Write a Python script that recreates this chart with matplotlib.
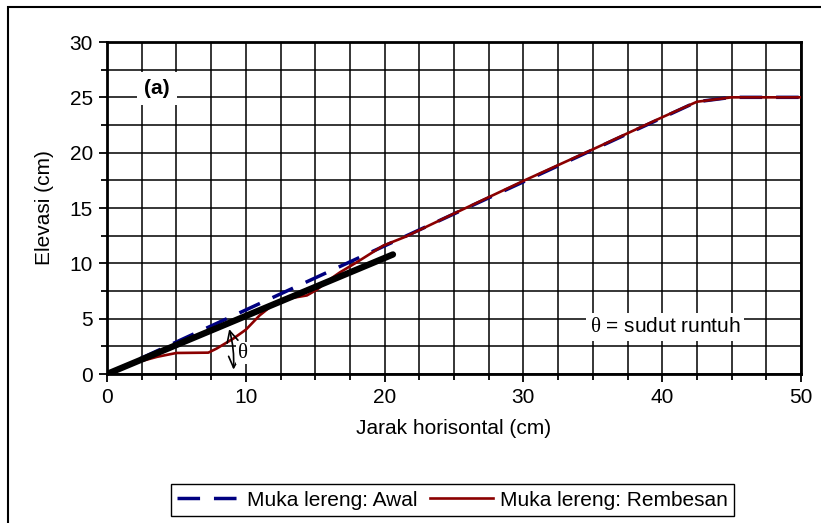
import matplotlib
matplotlib.use("Agg")
import matplotlib.pyplot as plt
from matplotlib.patches import FancyArrowPatch, Rectangle
from matplotlib.ticker import MultipleLocator

plt.rcParams['font.family'] = ['Liberation Sans', 'DejaVu Sans']
plt.rcParams['mathtext.fontset'] = 'custom'
plt.rcParams['mathtext.rm'] = 'Liberation Serif'
plt.rcParams['mathtext.it'] = 'Liberation Serif'

# Data
x_awal = [0, 42.5, 45, 50]
y_awal = [0, 24.6, 25.0, 25.0]

x_remb = [0, 2.0, 3.6, 5.0, 7.3, 7.9, 9.1, 10.0, 11.0, 11.9, 13.0, 14.4, 15.1,
          16.0, 16.8, 18.0, 19.9, 21.5, 25, 30, 35, 40, 42.5, 45, 50]
y_remb = [0, 1.0, 1.55, 1.9, 1.93, 2.3, 3.2, 4.0, 5.3, 6.2, 6.8, 7.1, 7.6,
          8.5, 9.2, 10.1, 11.6, 12.4, 14.5, 17.45, 20.3, 23.2, 24.6, 25.0, 25.0]

x_theta = [0, 20.6]
y_theta = [0, 10.8]

label_awal = "Muka lereng: Awal"
label_remb = "Muka lereng: Rembesan"
xlabel = "Jarak horisontal (cm)"
ylabel = "Elevasi (cm)"

fs = 15
fig = plt.figure(figsize=(8.21, 5.23), dpi=100)
ax = fig.add_axes([107/821, 1-374/523, (801-107)/821, (374-42)/523])

ax.plot(x_awal, y_awal, color='#000080', lw=2.5, dashes=(6.5, 4), zorder=3,
        label=label_awal)
ax.plot(x_remb, y_remb, color='#8B0000', lw=1.9, zorder=4, label=label_remb)
ax.plot(x_theta, y_theta, color='black', lw=4.6, solid_capstyle='round', zorder=5)

ax.set_xlim(0, 50)
ax.set_ylim(0, 30)
ax.xaxis.set_major_locator(MultipleLocator(10))
ax.xaxis.set_minor_locator(MultipleLocator(2.5))
ax.yaxis.set_major_locator(MultipleLocator(5))
ax.yaxis.set_minor_locator(MultipleLocator(2.5))
ax.grid(which='both', color='black', lw=1.1, zorder=1)
ax.set_axisbelow(True)
for s in ax.spines.values():
    s.set_linewidth(2.0)
ax.tick_params(which='major', length=6, width=1.3, direction='out', labelsize=fs, pad=4)
ax.tick_params(which='minor', length=4, width=1.3, direction='out')
ax.set_xlabel(xlabel, fontsize=fs, labelpad=9)
ax.set_ylabel(ylabel, fontsize=fs, labelpad=11)

# theta arc arrow
arr = FancyArrowPatch((9.1, 0.15), (8.75, 4.3),
                      arrowstyle='<->,head_length=0.8,head_width=0.4',
                      connectionstyle='arc3,rad=0.09', color='black', lw=1.2,
                      zorder=6, mutation_scale=10)
ax.add_patch(arr)
ax.text(9.8, 1.9, r'$\theta$', fontsize=fs, ha='center', va='center', zorder=6,
        bbox=dict(facecolor='white', edgecolor='none', pad=1))

ax.text(3.6, 25.8, '(a)', fontsize=fs, fontweight='bold', ha='center', va='center',
        zorder=6, bbox=dict(facecolor='white', edgecolor='none', pad=5))
ax.text(40.2, 4.25, r'$\theta$ = sudut runtuh', fontsize=fs, ha='center', va='center',
        zorder=6, bbox=dict(facecolor='white', edgecolor='none', pad=3))

leg = fig.legend(loc='center', bbox_to_anchor=(452.5/821, 1-500/523), ncol=2,
                 fontsize=fs, frameon=True, fancybox=False, framealpha=1,
                 edgecolor='black', handlelength=3.0, handletextpad=0.35,
                 columnspacing=0.6, borderpad=0.3, borderaxespad=0)
leg.get_frame().set_linewidth(1.0)

# outer frame (cropped on right/bottom)
fig.patches.append(Rectangle((8/821, -0.1), 1.2, 1-7/523+0.1, transform=fig.transFigure,
                             fill=False, edgecolor='black', lw=1.5))

fig.savefig('out.png', dpi=100)
